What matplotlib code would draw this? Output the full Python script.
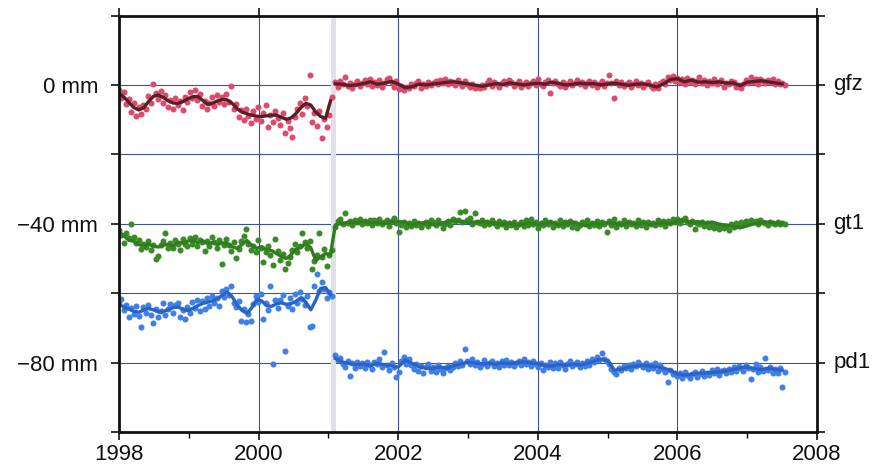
import numpy as np
import matplotlib
matplotlib.use("Agg")
import matplotlib.pyplot as plt
from matplotlib.ticker import MultipleLocator

# ---------------- data (mm) ----------------
# scatter samples
gfz_pre = [-1.5, -3.8, -2.0, -5.5, -4.1, -7.9, -5.2, -9.0, -6.3, -8.4,
           -5.8, -7.0, -3.1, -5.2, 0.2, -2.4, -4.0, -1.8, -5.1, -3.0,
           -6.4, -4.2, -6.9, -3.9, -5.8, -4.6, -7.2, -3.5, -4.8, -2.1,
           -3.9, -1.6, -4.4, -2.7, -6.2, -4.5, -7.0, -5.1, -3.6, -6.0,
           -2.9, -4.9, -3.4, -5.6, -2.6, -4.8, -0.3, -6.9, -5.4, -9.1,
           -7.3, -10.2, -6.8, -8.9, -11.0, -7.6, -9.8, -6.3, -10.5, -8.0,
           -5.9, -12.1, -8.6, -10.8, -7.4, -9.5, -11.6, -8.2, -13.8, -10.4,
           -12.5, -15.0, -9.1, -7.0, -5.2, -8.3, -3.8, -6.1, 2.8, -10.6,
           -8.2, -11.9, -7.5, -15.2, -9.8, -12.0, -8.6, -3.4]
gfz_post = [0.8, -0.5, 1.2, 0.3, 2.4, -0.2, 0.6, -0.9, 0.4, 1.0,
            -0.3, 0.7, 1.5, 0.2, 1.8, -0.4, 0.9, 0.1, 1.3, -0.6,
            0.5, 1.6, 2.0, 0.8, -0.5, 1.1, -1.3, -0.2, -1.6, -0.7,
            -1.0, 0.4, -0.3, 0.6, 1.0, -0.8, 0.3, -0.4, 0.8, -0.1,
            0.5, 1.1, 0.2, 1.4, 0.7, 1.6, 0.4, 1.2, 0.9, 0.1,
            1.5, 0.6, -0.2, 1.0, 0.3, -0.6, 0.2, -1.0, -0.3, -0.8,
            0.1, -0.5, 0.7, 1.4, -0.2, 0.9, 0.3, -0.7, 0.5, 1.2,
            0.2, 1.5, 0.8, -0.3, 0.4, 1.0, -0.5, 0.2, 0.9, -0.2,
            0.6, 1.1, 0.0, 1.7, 0.4, -0.4, 0.9, 1.5, -2.2, 0.6,
            1.2, 0.3, -0.3, 0.8, -0.6, 0.4, 1.0, -0.1, 0.7, 1.3,
            0.2, 0.9, -0.2, 0.6, 1.1, 0.0, 0.8, -0.5, 0.4, 1.0,
            -0.3, 0.7, 2.9, 0.5, -3.7, 1.2, 0.1, 0.8, -0.4, 0.3,
            0.9, -0.5, 0.4, 1.1, -0.1, 0.6, -0.6, 0.3, 0.8, -0.2,
            -0.8, 0.2, -1.0, 0.5, 1.2, 0.3, 2.3, 1.5, 2.6, 1.2,
            2.0, 0.8, 1.6, 0.2, 1.9, 0.9, 1.4, 0.4, 1.1, 2.2,
            0.6, 1.3, -0.1, 1.0, 0.5, 1.6, 0.3, 0.9, 1.4, -0.5,
            0.7, 0.2, 1.2, 0.9, -0.6, 0.1, -0.9, 0.4, 1.3, 0.6,
            2.3, 0.9, 1.6, 0.3, 1.8, 1.1, 0.5, 1.4, 0.8, 1.7,
            0.4, 1.0, 0.2, 0.7, 0.1]

gt1_pre = [-41.8, -43.2, -45.4, -42.6, -44.0, -40.2, -43.9, -45.6, -44.7, -47.2,
           -45.9, -46.8, -44.9, -47.5, -46.2, -50.1, -49.4, -46.0, -45.1, -42.8,
           -47.0, -45.4, -46.9, -44.6, -45.8, -47.6, -44.3, -45.9, -46.5, -44.1,
           -45.7, -43.8, -46.3, -44.6, -45.2, -47.8, -44.9, -46.4, -43.9, -45.3,
           -47.0, -44.8, -51.7, -46.1, -44.5, -46.0, -47.9, -45.3, -50.0, -47.3,
           -45.1, -43.6, -41.4, -45.9, -47.5, -46.3, -48.1, -44.8, -46.9, -51.1,
           -48.2, -46.5, -49.0, -52.0, -44.3, -47.8, -50.3, -48.7, -52.9, -51.2,
           -49.6, -47.6, -45.9, -48.2, -46.4, -42.6, -45.3, -47.1, -44.9, -52.9,
           -50.8, -48.9, -42.8, -49.7, -47.4, -52.3, -49.0, -47.5]
gt1_post = [-40.8, -39.2, -38.6, -40.1, -37.0, -39.8, -39.1, -40.4, -38.9, -39.6,
            -38.7, -40.2, -39.3, -39.9, -38.8, -40.5, -39.0, -39.7, -38.5, -40.0,
            -39.4, -38.9, -40.6, -39.2, -38.4, -39.8, -42.4, -40.3, -39.5, -40.9,
            -39.7, -40.6, -39.1, -40.4, -39.8, -41.0, -40.2, -39.4, -40.7, -38.9,
            -39.6, -40.3, -38.8, -39.9, -41.1, -40.0, -39.3, -40.5, -38.6, -39.2,
            -38.9, -36.6, -39.5, -36.2, -39.0, -38.4, -40.1, -37.0, -39.6, -39.9,
            -38.8, -40.3, -39.4, -40.0, -38.9, -39.7, -40.6, -39.3, -40.2, -39.5,
            -40.8, -39.9, -40.4, -39.6, -41.0, -40.1, -39.5, -40.7, -39.0, -40.3,
            -38.7, -40.2, -39.6, -41.1, -39.9, -40.5, -38.9, -40.0, -39.4, -40.8,
            -39.7, -40.3, -38.8, -40.6, -39.5, -40.1, -39.2, -40.9, -39.9, -41.2,
            -40.4, -39.6, -40.0, -38.9, -40.6, -39.8, -40.3, -39.1, -40.7, -39.5,
            -40.0, -42.4, -39.3, -40.5, -38.6, -40.9, -39.7, -40.2, -39.0, -40.6,
            -39.4, -40.1, -39.8, -40.7, -38.9, -40.3, -39.5, -41.0, -39.6, -40.2,
            -39.9, -40.5, -38.8, -40.0, -39.3, -40.6, -39.1, -39.7, -38.6, -39.4,
            -38.5, -39.9, -39.0, -38.4, -39.6, -40.2, -39.2, -41.4, -39.8, -40.1,
            -39.4, -40.6, -39.9, -40.8, -40.3, -41.1, -40.5, -41.6, -40.9, -41.3,
            -40.6, -41.8, -40.2, -40.9, -39.8, -40.4, -39.5, -40.0, -39.2, -39.8,
            -38.9, -39.6, -39.3, -40.1, -38.8, -39.5, -39.9, -40.3, -39.4, -39.7,
            -40.2, -39.6, -40.0, -39.8, -40.1]

pd1_pre = [-62.4, -61.8, -64.9, -63.5, -66.8, -64.2, -65.9, -63.7, -66.5, -69.8,
           -64.1, -65.6, -63.3, -66.2, -68.6, -64.7, -67.0, -65.2, -62.9, -66.3,
           -64.5, -63.0, -65.8, -63.4, -62.7, -66.9, -64.8, -67.4, -63.9, -65.7,
           -62.6, -64.3, -61.9, -65.0, -62.2, -64.6, -61.5, -63.8, -60.9, -62.8,
           -61.3, -63.6, -59.4, -61.2, -58.8, -60.5, -58.0, -62.7, -64.1, -62.3,
           -67.9, -64.6, -68.3, -66.0, -67.9, -63.1, -60.7, -62.5, -60.2, -67.3,
           -62.8, -64.9, -57.8, -80.5, -61.9, -64.2, -62.1, -60.6, -76.7, -63.8,
           -61.4, -64.5, -60.3, -62.9, -59.8, -61.7, -63.5, -60.9, -69.8, -69.6,
           -57.8, -54.6, -59.3, -56.9, -58.7, -61.4, -59.6, -60.9]
pd1_post = [-77.9, -79.2, -78.6, -80.4, -81.2, -79.5, -84.0, -80.1, -81.5, -79.8,
            -80.9, -80.2, -81.6, -79.7, -80.8, -81.9, -79.9, -80.5, -79.1, -81.3,
            -77.0, -80.6, -82.2, -80.0, -81.4, -84.1, -82.8, -79.6, -78.4, -80.3,
            -79.0, -80.7, -81.8, -80.4, -82.5, -81.0, -82.9, -81.3, -80.5, -82.4,
            -81.2, -82.7, -80.8, -81.9, -83.0, -81.5, -80.9, -82.2, -81.4, -80.2,
            -81.0, -79.6, -80.7, -76.2, -79.4, -80.5, -79.1, -80.8, -79.7, -81.2,
            -80.3, -79.3, -81.0, -80.1, -79.5, -80.9, -80.0, -81.3, -79.6, -80.6,
            -79.2, -80.8, -79.9, -81.0, -80.2, -79.4, -80.7, -79.0, -80.4, -79.7,
            -80.9, -79.5, -80.3, -81.4, -80.0, -82.1, -80.6, -81.3, -79.8, -81.7,
            -80.2, -81.5, -79.9, -80.8, -81.9, -80.3, -79.6, -81.1, -80.5, -79.9,
            -81.2, -80.0, -80.9, -79.4, -80.6, -79.1, -79.8, -78.5, -79.3, -77.2,
            -78.9, -79.6, -80.4, -81.8, -82.6, -83.2, -81.5, -82.0, -80.9, -81.6,
            -80.6, -81.9, -80.3, -81.1, -79.9, -80.7, -81.4, -80.2, -81.8, -80.8,
            -81.5, -80.1, -82.3, -80.8, -81.9, -82.6, -85.6, -82.1, -83.4, -82.9,
            -84.0, -83.1, -84.3, -82.8, -83.7, -84.5, -83.2, -82.6, -84.1, -83.3,
            -82.4, -83.8, -82.9, -83.5, -82.2, -83.1, -81.9, -83.6, -82.5, -82.0,
            -83.0, -81.8, -82.6, -81.4, -82.3, -80.9, -81.7, -82.4, -80.8, -81.6,
            -84.7, -81.9, -80.5, -82.7, -81.2, -82.5, -78.8, -82.1, -81.4, -83.0,
            -81.8, -82.9, -81.5, -87.1, -82.6]

# smoothed curves
gfz_line_pre = [-2.4, -3.5, -5.0, -6.5, -7.2, -6.6, -4.8, -3.3, -2.9, -3.6,
                -4.6, -5.2, -5.3, -4.8, -4.0, -3.4, -3.3, -4.4, -5.6, -5.3,
                -4.6, -4.2, -4.3, -5.3, -6.8, -7.8, -8.3, -8.7, -9.0, -9.1,
                -8.9, -8.7, -8.7, -9.3, -9.9, -9.5, -8.2, -6.5, -5.3, -5.8,
                -7.8, -9.1, -9.6, -4.6]
gfz_line_post = [0.3, 0.2, -0.2, 0.0, 0.4, 0.9, 0.2, 0.5, 1.0, 0.3,
                 -0.8, -0.5, 0.2, 0.0, 0.3, 0.5, 0.8, 0.9, 0.6, 0.3,
                 -0.1, -0.4, 0.0, 0.4, 0.1, 0.6, 0.3, 0.0, 0.3, 0.5,
                 0.2, 0.8, 0.4, 0.0, 0.2, 0.5, 0.3, 0.4, 0.0, 0.3,
                 0.5, 0.2, -0.1, 0.2, 0.3, 0.0, -0.6, 0.3, 1.6, 1.8,
                 0.9, 1.4, 0.8, 0.9, 0.7, 0.9, 0.5, 0.6, -0.2, 0.8,
                 1.0, 1.2, 0.9, 0.6, 0.3]

gt1_line_pre = [-42.4, -43.5, -44.8, -45.0, -46.0, -46.3, -45.8, -46.5, -46.7, -46.2,
                -45.9, -46.4, -45.3, -45.6, -45.0, -44.8, -45.4, -44.9, -45.7, -45.4,
                -46.0, -45.5, -45.7, -46.6, -47.1, -46.0, -44.8, -46.2, -47.1, -46.6,
                -47.5, -47.7, -48.6, -49.4, -50.0, -48.9, -47.3, -46.8, -45.7, -46.9,
                -50.6, -49.5, -48.6, -48.8]
gt1_line_post = [-40.3, -39.9, -39.5, -39.7, -39.4, -39.8, -39.6, -39.9, -39.5, -39.3,
                 -39.6, -40.4, -39.8, -39.7, -40.3, -40.0, -39.4, -39.1, -39.3, -39.6,
                 -39.5, -39.4, -39.7, -39.9, -40.2, -39.8, -40.4, -40.1, -39.7, -40.3,
                 -39.9, -39.6, -40.2, -39.8, -39.5, -40.1, -40.5, -39.9, -40.2, -39.6,
                 -39.9, -40.3, -39.7, -40.1, -39.8, -40.2, -39.9, -39.7, -40.0, -39.3,
                 -39.0, -39.6, -39.4, -39.8, -39.5, -40.1, -40.4, -40.8, -41.2, -40.6,
                 -40.0, -39.7, -39.5, -39.8, -39.9]

pd1_line_pre = [-63.1, -64.0, -64.6, -65.2, -65.5, -64.9, -64.4, -64.8, -65.4, -65.3,
                -64.7, -64.2, -64.0, -64.6, -65.0, -64.4, -63.6, -63.0, -62.6, -62.2,
                -61.6, -60.6, -59.7, -61.0, -63.3, -65.0, -65.8, -64.2, -61.8, -62.2,
                -63.6, -63.8, -63.1, -62.8, -63.2, -63.0, -62.3, -61.3, -62.6, -64.8,
                -62.0, -58.6, -58.4, -60.5]
pd1_line_post = [-78.8, -79.8, -80.3, -80.6, -80.4, -80.9, -80.2, -80.6, -80.9, -81.3,
                 -79.3, -80.2, -81.2, -81.6, -81.7, -81.3, -81.6, -80.8, -80.4, -79.9,
                 -80.1, -80.4, -80.2, -80.5, -80.1, -80.3, -80.0, -79.8, -80.1, -80.3,
                 -80.9, -81.0, -80.6, -80.8, -80.4, -80.7, -80.3, -79.6, -79.0, -79.4,
                 -82.2, -81.9, -81.3, -81.0, -80.8, -81.0, -81.2, -81.6, -82.2, -83.3,
                 -83.6, -83.4, -83.1, -83.0, -82.8, -82.7, -82.4, -82.0, -81.5, -81.3,
                 -81.7, -82.0, -81.6, -82.0, -82.2]

series_names = ["gfz", "gt1", "pd1"]
series_offsets = [0, -40, -80]
x_ticks = [1998, 2000, 2002, 2004, 2006, 2008]
y_labels = {0: "0 mm", -40: "\u221240 mm", -80: "\u221280 mm"}

# sampling epochs (decimal years)
t_pre = np.linspace(1998.0, 2001.045, len(gfz_pre))
t_post = np.linspace(2001.10, 2007.54, len(gfz_post))
tl_pre = np.linspace(1998.0, 2001.03, len(gfz_line_pre))
tl_post = np.linspace(2001.10, 2007.50, len(gfz_line_post))

# ---------------- plot ----------------
plt.rcParams['font.family'] = ['Liberation Sans', 'DejaVu Sans']
fig = plt.figure(figsize=(8.73, 4.69), dpi=100)
ax = fig.add_axes([0.1363, 0.0789, 0.7996, 0.888])

ax.set_xlim(1998, 2008)
ax.set_ylim(-100, 20)
ax.xaxis.set_major_locator(MultipleLocator(2))
ax.xaxis.set_minor_locator(MultipleLocator(1))
ax.yaxis.set_major_locator(MultipleLocator(20))
ax.grid(True, which='major', color='#3f52a0', linewidth=0.8)
ax.set_axisbelow(True)

ax.axvspan(2001.04, 2001.105, color='#e0e0e8', zorder=1.5, lw=0)

dot_size = 19
# gfz
ax.scatter(t_pre, gfz_pre, s=dot_size, color='#dc4a6e', lw=0, zorder=2)
ax.scatter(t_post, gfz_post, s=dot_size, color='#dc4a6e', lw=0, zorder=2)
ax.plot(tl_pre, gfz_line_pre, color='#5a1e26', lw=2.4, zorder=3)
ax.plot(tl_post, gfz_line_post, color='#5a1e26', lw=2.4, zorder=3)
# gt1
ax.scatter(t_pre, gt1_pre, s=dot_size, color='#3a8a28', lw=0, zorder=2)
ax.scatter(t_post, gt1_post, s=dot_size, color='#3a8a28', lw=0, zorder=2)
ax.plot(np.concatenate([tl_pre, tl_post]), gt1_line_pre + gt1_line_post,
        color='#2f7d1f', lw=2.4, zorder=3)
# pd1
ax.scatter(t_pre, pd1_pre, s=dot_size, color='#3f7fe6', lw=0, zorder=2)
ax.scatter(t_post, pd1_post, s=dot_size, color='#3f7fe6', lw=0, zorder=2)
ax.plot(tl_pre, pd1_line_pre, color='#2b62c6', lw=2.4, zorder=3)
ax.plot(tl_post, pd1_line_post, color='#2b62c6', lw=2.4, zorder=3)

for sp in ax.spines.values():
    sp.set_linewidth(2.0)
    sp.set_color('#111111')
    sp.set_zorder(6)

ax.set_xticks(x_ticks)
ax.set_xticklabels([str(v) for v in x_ticks])
yt = list(range(-100, 21, 20))
ax.set_yticks(yt)
ax.set_yticklabels([y_labels.get(v, "") for v in yt])
ax.tick_params(axis='both', which='major', direction='out', length=6, width=1.2,
               labelsize=16, colors='#111111')
ax.tick_params(axis='x', which='major', top=True, pad=3)
ax.tick_params(axis='x', which='minor', direction='out', length=4, width=1.0, top=False)
ax.tick_params(axis='y', which='major', right=True, pad=9)

for name, off in zip(series_names, series_offsets):
    ax.text(1.023, off, name, transform=ax.get_yaxis_transform(),
            ha='left', va='center', fontsize=16, color='#111111')

fig.savefig("out.png", dpi=100)
